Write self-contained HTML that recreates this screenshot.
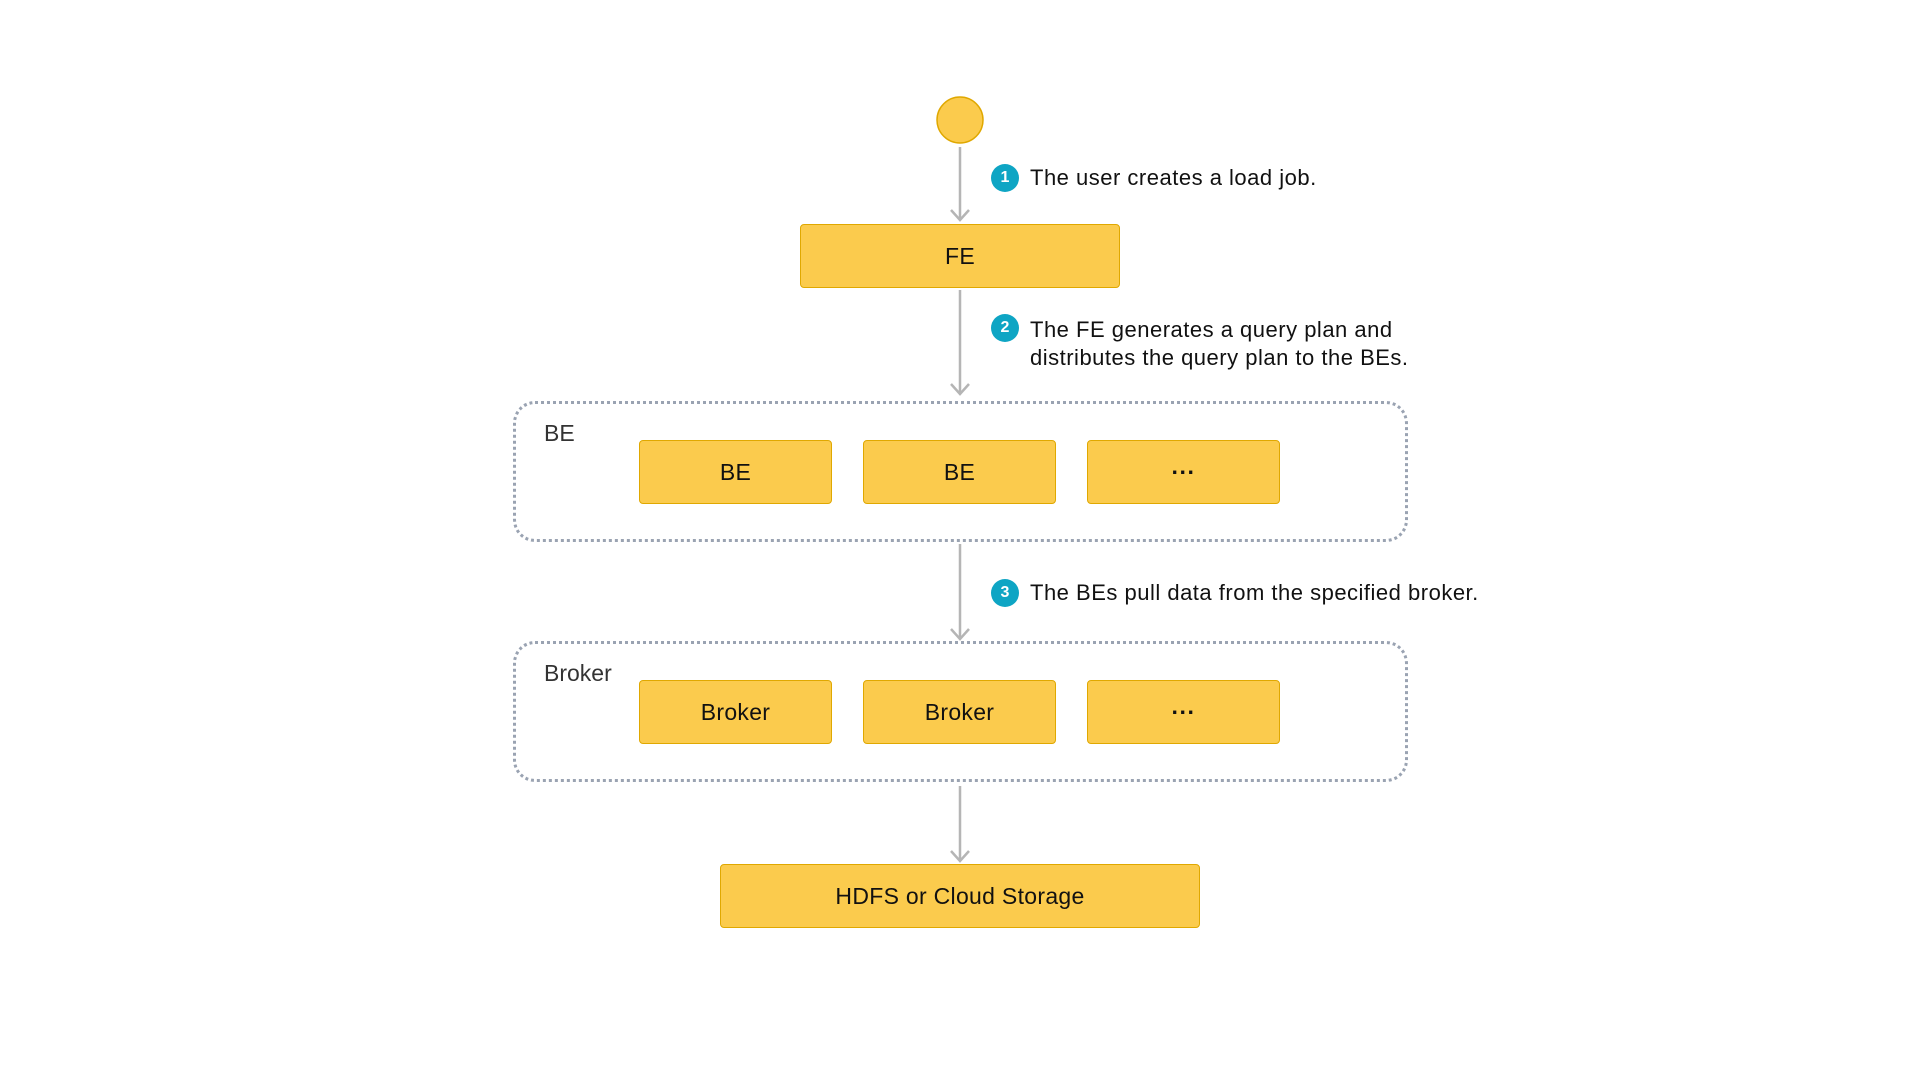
<!DOCTYPE html>
<html><head><meta charset="utf-8"><style>
body{margin:0;width:1920px;height:1080px;background:#fff;position:relative;font-family:"Liberation Sans",sans-serif;overflow:hidden}
.b{position:absolute;background:#fbcb4d;border:1.5px solid #e0a800;border-radius:4px;box-sizing:border-box;display:flex;align-items:center;justify-content:center;font-size:23px;color:#111;letter-spacing:0.3px}
.g{position:absolute;border:3px dotted #9aa3b2;border-radius:22px;box-sizing:border-box}
.gl{position:absolute;font-size:23px;color:#333}
.t{position:absolute;font-size:22px;color:#111;line-height:27.5px;letter-spacing:0.5px}
.n{position:absolute;width:28px;height:28px;border-radius:50%;background:#0ea5c4;color:#fff;font-size:16px;font-weight:bold;display:flex;align-items:center;justify-content:center}
</style></head><body>
<svg width="1920" height="1080" style="position:absolute;left:0;top:0">
<circle cx="960" cy="120" r="23" fill="#fbcb4d" stroke="#e0a800" stroke-width="1.5"/>
<g stroke="#b5b5b5" stroke-width="2.5" fill="none">
<line x1="960" y1="147" x2="960" y2="220"/><polyline points="951,210 960,220 969,210"/>
<line x1="960" y1="290" x2="960" y2="394"/><polyline points="951,384 960,394 969,384"/>
<line x1="960" y1="544" x2="960" y2="639"/><polyline points="951,629 960,639 969,629"/>
<line x1="960" y1="786" x2="960" y2="861"/><polyline points="951,851 960,861 969,851"/>
</g></svg>
<div class="b" style="left:800px;top:224px;width:320px;height:64px">FE</div>
<div class="n" style="left:991px;top:164px">1</div>
<div class="t" style="left:1030px;top:164px">The user creates a load job.</div>
<div class="n" style="left:991px;top:314px">2</div>
<div class="t" style="left:1030px;top:316px">The FE generates a query plan and<br>distributes the query plan to the BEs.</div>
<div class="g" style="left:513px;top:401px;width:895px;height:141px"></div>
<div class="gl" style="left:544px;top:420px">BE</div>
<div class="b" style="left:639px;top:440px;width:193px;height:64px">BE</div>
<div class="b" style="left:863px;top:440px;width:193px;height:64px">BE</div>
<div class="b" style="left:1087px;top:440px;width:193px;height:64px;font-weight:bold">···</div>
<div class="n" style="left:991px;top:579px">3</div>
<div class="t" style="left:1030px;top:579px">The BEs pull data from the specified broker.</div>
<div class="g" style="left:513px;top:641px;width:895px;height:141px"></div>
<div class="gl" style="left:544px;top:660px">Broker</div>
<div class="b" style="left:639px;top:680px;width:193px;height:64px">Broker</div>
<div class="b" style="left:863px;top:680px;width:193px;height:64px">Broker</div>
<div class="b" style="left:1087px;top:680px;width:193px;height:64px;font-weight:bold">···</div>
<div class="b" style="left:720px;top:864px;width:480px;height:64px">HDFS or Cloud Storage</div>
</body></html>
